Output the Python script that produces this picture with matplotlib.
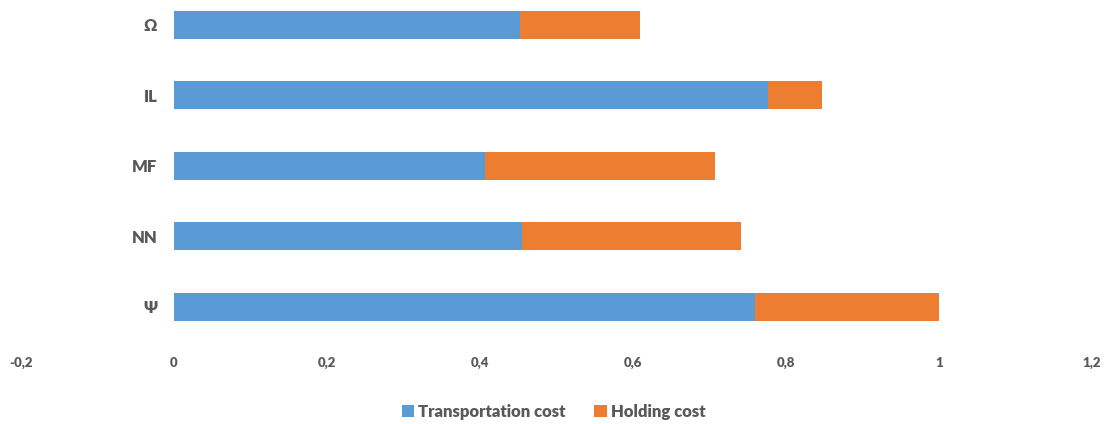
import matplotlib.pyplot as plt
from matplotlib.ticker import FuncFormatter

# Cost breakdown per method (bottom to top)
methods = ['Ψ', 'NN', 'MF', 'IL', 'Ω']
transportation = [0.760, 0.455, 0.407, 0.776, 0.452]
holding = [0.240, 0.286, 0.300, 0.071, 0.157]

blue = '#5B9BD5'
orange = '#ED7D31'
grey = '#595959'

plt.rcParams['font.family'] = ['Lato', 'DejaVu Sans']

fig = plt.figure(figsize=(11.07, 4.24), dpi=100)
ax = fig.add_axes([21 / 1107, 82 / 424, 1071 / 1107, 342 / 424])

pos = range(len(methods))
ax.barh(pos, transportation, height=0.4, color=blue, label='Transportation cost')
ax.barh(pos, holding, left=transportation, height=0.4, color=orange, label='Holding cost')

ax.set_xlim(-0.2, 1.2)
ax.set_ylim(-0.5, 4.35)
ax.set_xticks([-0.2, 0, 0.2, 0.4, 0.6, 0.8, 1.0, 1.2])
ax.xaxis.set_major_formatter(FuncFormatter(lambda v, _: f'{v:g}'.replace('.', ',')))
ax.set_yticks(list(pos))
ax.set_yticklabels(methods)

# category axis sits at x = 0, no visible lines
ax.spines['left'].set_position(('data', 0))
for s in ax.spines.values():
    s.set_visible(False)
ax.tick_params(axis='y', length=0, pad=12, labelsize=12, labelcolor=grey)
ax.tick_params(axis='x', length=0, pad=11, labelsize=9.5, labelcolor=grey)
for lbl in ax.get_yticklabels() + ax.get_xticklabels():
    lbl.set_fontweight('heavy')

fig.legend(loc='center', bbox_to_anchor=(0.5, 1 - 412 / 424), ncol=2, frameon=False,
           handlelength=0.75, handleheight=0.75, handletextpad=0.25, columnspacing=1.7,
           prop={'size': 12, 'weight': 'heavy'}, labelcolor=grey)

fig.savefig('out.png', dpi=100)
